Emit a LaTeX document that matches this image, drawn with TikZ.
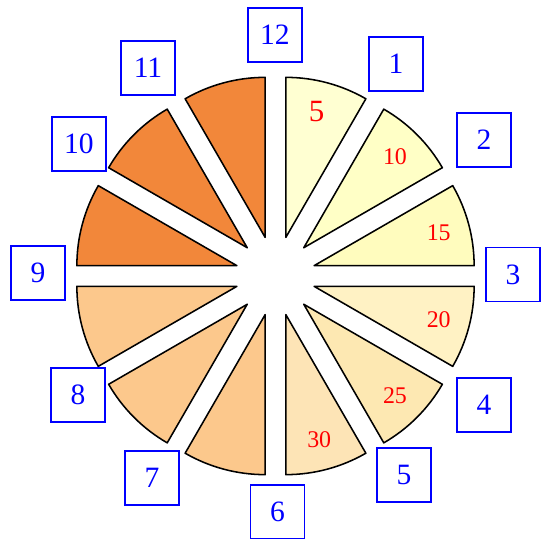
\documentclass[tikz,border=0pt]{standalone}
\usepackage{fontspec}
\setmainfont{Liberation Serif}
\usepackage{xcolor}

\definecolor{pieA}{HTML}{FFFFD2}
\definecolor{pieB}{HTML}{FFFFC6}
\definecolor{pieC}{HTML}{FFFCBE}
\definecolor{pieD}{HTML}{FFF2C4}
\definecolor{pieE}{HTML}{FDE8B2}
\definecolor{pieF}{HTML}{FDE4B6}
\definecolor{pieG}{HTML}{FCC88C}
\definecolor{pieH}{HTML}{F2873A}

\begin{document}
\begin{tikzpicture}[
  x=0.025cm, y=0.025cm,
  hour/.style={draw=blue, line width=0.9pt, text=blue, minimum size=1.35cm, inner sep=0pt, font=\fontsize{21}{21}\selectfont},
  slice/.style={draw=black, line width=1.1pt, line join=round, fill=#1},
  val/.style={text=red, font=\fontsize{17}{17}\selectfont}
]
\useasboundingbox (-275.5,-263) rectangle (265.5,276);

% the twelve pulled-out slices
\foreach \k/\c in {1/pieA, 2/pieB, 3/pieC, 4/pieD, 5/pieE, 6/pieF,
                   7/pieG, 8/pieG, 9/pieG, 10/pieH, 11/pieH, 12/pieH}
  \draw[slice=\c] ({105-30*\k}:40) -- ++({120-30*\k}:160)
    arc[start angle={120-30*\k}, end angle={90-30*\k}, radius=160] -- cycle;

% values in the first half
\node[val, font=\fontsize{22}{22}\selectfont] (v1) at (76:170) {5};
\foreach \k/\v in {2/10, 3/15, 4/20, 5/25, 6/30}
  \node[val] (v\k) at ({105-30*\k}:169) {\v};

% hour boxes
\foreach \h/\x/\y in {12/-0.5/241, 1/120.5/212, 2/208.5/136, 3/237.5/1.5,
                      4/208.5/-129, 5/128.5/-199, 6/2/-236, 7/-123.5/-202,
                      8/-197.5/-119, 9/-237.5/3, 10/-196.5/132, 11/-127.5/208}
  \node[hour] (h\h) at (\x,\y) {\h};
\end{tikzpicture}
\end{document}
